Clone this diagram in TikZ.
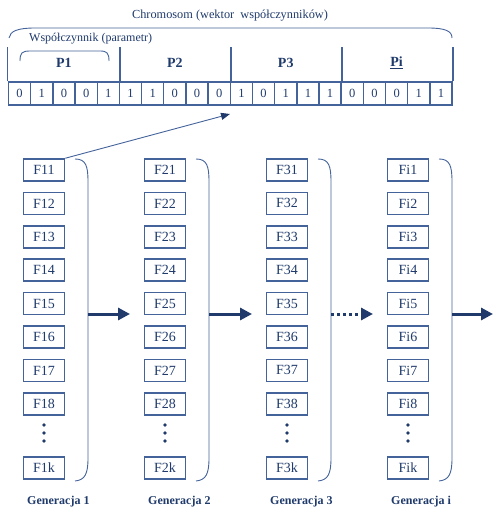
\documentclass[tikz,border=0pt]{standalone}
\usepackage{fontspec}
\setmainfont{Liberation Serif}
\usetikzlibrary{arrows.meta,positioning}
\definecolor{ink}{HTML}{1F3A6B}
\definecolor{linec}{HTML}{44639A}

\tikzset{
  fbox/.style={draw=linec,line width=1.5pt,text=ink,minimum width=41pt,minimum height=22pt,inner sep=0pt,font=\fontsize{14}{16}\selectfont},
  bit/.style={draw=linec,line width=1.4pt,text=ink,minimum width=22.2pt,minimum height=23pt,inner sep=0pt,font=\fontsize{12.5}{14}\selectfont},
  plabel/.style={text=ink,inner sep=0pt,font=\bfseries\fontsize{14}{16}\selectfont},
  genlabel/.style={text=ink,anchor=west,inner sep=0pt,font=\bfseries\fontsize{12}{14}\selectfont},
  brace/.style={draw=linec,line width=0.9pt},
  genarrow/.style={draw=ink,line width=3pt,-{Triangle[length=12pt,width=12pt]}},
}

\begin{document}
\begin{tikzpicture}[x=1pt,y=-1pt]
\useasboundingbox (0,0) rectangle (493,510);

% chromosom
\foreach \b [count=\n] in {0,1,0,0,1,1,1,0,0,0,1,0,1,1,1,0,0,0,1,1}
  \node[bit] (b\n) at ({8.5+22.18*(\n-0.5)},93.5) {\b};
\draw[linec,line width=1.4pt] (b1.north west) -- ++(0,-34);
\foreach \k in {5,10,15,20}
  \draw[linec,line width=1.4pt] (b\k.north east) -- ++(0,-34);
\node[plabel] (p1) at (b3 |- 0,63) {P1};
\node[plabel] (p2) at (b8 |- 0,63) {P2};
\node[plabel] (p3) at (b13 |- 0,63) {P3};
\node[plabel] (pi) at (b18 |- 0,63) {\underline{Pi}};

\draw[brace] (20,61) .. controls (20,53) and (22,51) .. (30,51) -- (100,51) .. controls (107,51) and (109,53) .. (109,61);
\draw[brace] (9,38) .. controls (10,31) and (18,28) .. (35,28) -- (428,28) .. controls (445,28) and (452,31) .. (452,38);
\node[text=ink,font=\fontsize{12.3}{14}\selectfont] (chrom) at (230,16) {Chromosom (wektor\ \ współczynników)};
\node[text=ink,anchor=west,inner sep=0pt,font=\fontsize{12}{14}\selectfont] (param) at (29,39) {Współczynnik (parametr)};

% generacje
\foreach \g/\x [count=\c] in {1/44,2/165,3/287,i/408}{
  \foreach \r in {1,...,8}
    \node[fbox] (F\g\r) at (\x,{170+33.4*(\r-1)}) {F\g\r};
  \node[fbox] (F\g k) at (\x,468) {F\g k};
  \foreach \d in {425,433,441}
    \fill[ink] (\x,\d) circle (1.9pt);
  \draw[brace] ({\x+31},159) .. controls ({\x+42},159) and ({\x+44},166) .. ({\x+44},182)
    -- ({\x+44},458) .. controls ({\x+44},474) and ({\x+41},480) .. ({\x+31},481);
  \coordinate (out\c) at ({\x+44},314);
  \coordinate (in\c) at ({\x-35},314);
  \node[genlabel] (gen\g) at ({\x-17},502) {Generacja \g};
}
\coordinate (end) at (493,314);
\coordinate (chromin) at (230,114);

\draw[linec,line width=0.9pt,-{Triangle[length=9pt,width=7pt,color=ink]}] (F11.north east) -- (chromin);
\draw[genarrow] (out1) -- (in2);
\draw[genarrow] (out2) -- (in3);
\draw[genarrow,dash pattern=on 3pt off 3pt] (out3) -- (in4);
\draw[genarrow] (out4) -- (end);
\end{tikzpicture}
\end{document}
